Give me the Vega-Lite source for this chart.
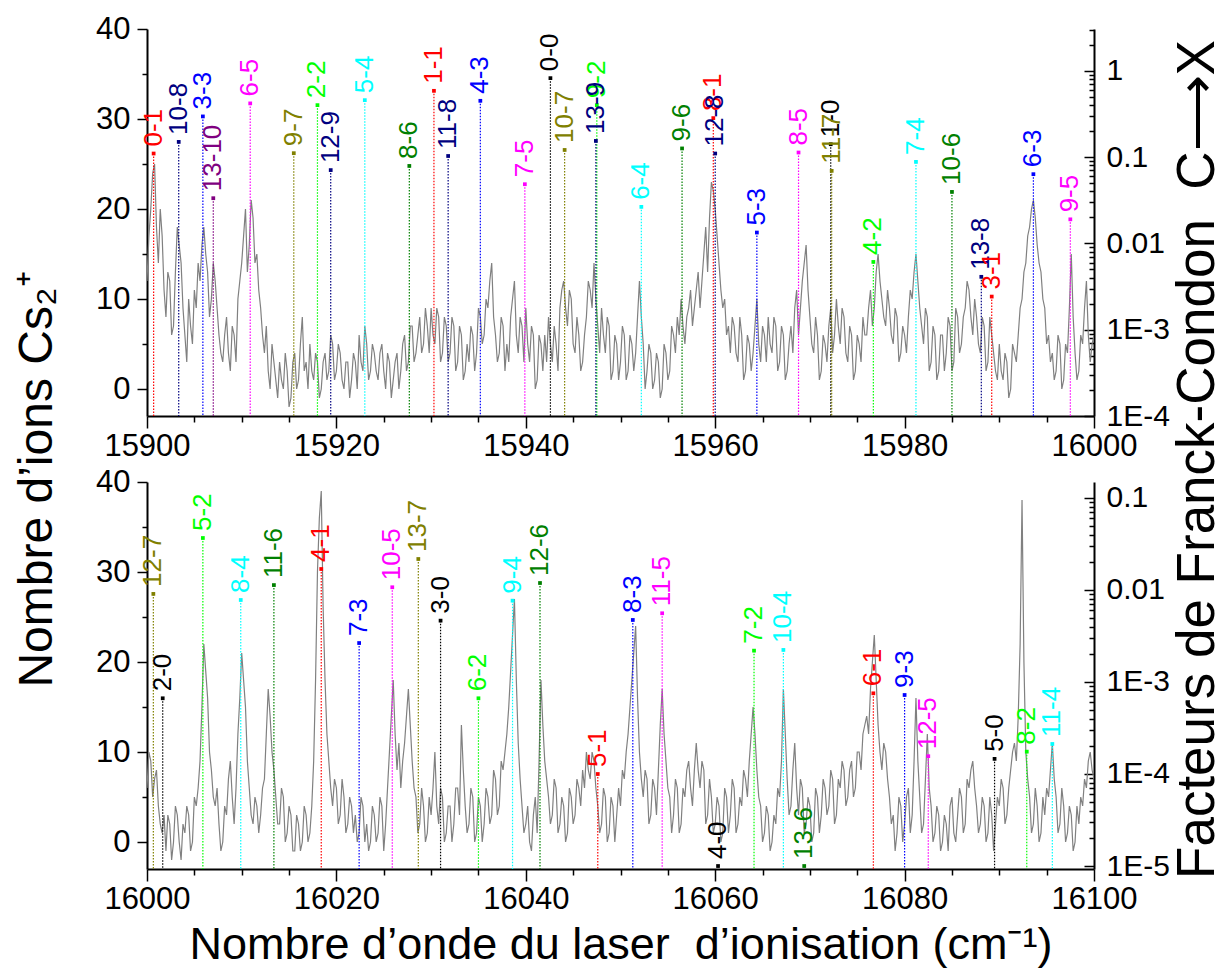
{
"$schema":"https://vega.github.io/schema/vega-lite/v6.json",
"background":"white",
"padding":{"left":13,"top":13,"right":5,"bottom":5},
"bounds":"flush",
"spacing":66,
"config":{"font":"Liberation Sans","view":{"stroke":null},"axis":{"domainColor":"black","domainWidth":2,"tickColor":"black","tickWidth":1.5,"labelColor":"black","labelFont":"Liberation Sans","labelFontSize":31,"titleColor":"black","titleFont":"Liberation Sans","titleFontWeight":"normal","grid":false,"labelOverlap":false,"labelFlush":false}},
"datasets":{
"specTop":[
{"w":15900,"c":12},{"w":15900.2,"c":17},{"w":15900.4,"c":20},{"w":15900.6,"c":24},{"w":15900.8,"c":25},{"w":15901,"c":18},{"w":15901.2,"c":14},{"w":15901.4,"c":20},{"w":15901.6,"c":17},{"w":15901.8,"c":11},
{"w":15902,"c":8},{"w":15902.2,"c":13},{"w":15902.4,"c":12},{"w":15902.6,"c":6},{"w":15902.8,"c":7},{"w":15903,"c":13},{"w":15903.2,"c":18},{"w":15903.4,"c":16},{"w":15903.6,"c":14},{"w":15903.8,"c":9},
{"w":15904,"c":6},{"w":15904.2,"c":3},{"w":15904.4,"c":10},{"w":15904.6,"c":7},{"w":15904.8,"c":5},{"w":15905,"c":11},{"w":15905.2,"c":9},{"w":15905.4,"c":14},{"w":15905.6,"c":12},{"w":15905.8,"c":16},
{"w":15906,"c":18},{"w":15906.2,"c":15},{"w":15906.4,"c":13},{"w":15906.6,"c":8},{"w":15906.8,"c":10},{"w":15907,"c":14},{"w":15907.2,"c":12},{"w":15907.4,"c":9},{"w":15907.6,"c":6},{"w":15907.8,"c":4},
{"w":15908,"c":3},{"w":15908.2,"c":6},{"w":15908.4,"c":8},{"w":15908.6,"c":4},{"w":15908.8,"c":2},{"w":15909,"c":7},{"w":15909.2,"c":6},{"w":15909.4,"c":3},{"w":15909.6,"c":10},{"w":15909.8,"c":12},
{"w":15910,"c":14},{"w":15910.2,"c":17},{"w":15910.4,"c":20},{"w":15910.6,"c":13},{"w":15910.8,"c":16},{"w":15911,"c":21},{"w":15911.2,"c":19},{"w":15911.4,"c":14},{"w":15911.6,"c":15},{"w":15911.8,"c":11},
{"w":15912,"c":9},{"w":15912.2,"c":6},{"w":15912.4,"c":4},{"w":15912.6,"c":7},{"w":15912.8,"c":2},{"w":15913,"c":0},{"w":15913.2,"c":5},{"w":15913.4,"c":3},{"w":15913.6,"c":1},{"w":15913.8,"c":-1},
{"w":15914,"c":3},{"w":15914.2,"c":1},{"w":15914.4,"c":0},{"w":15914.6,"c":4},{"w":15914.8,"c":2},{"w":15915,"c":-2},{"w":15915.2,"c":-1},{"w":15915.4,"c":3},{"w":15915.6,"c":4},{"w":15915.8,"c":0},
{"w":15916,"c":1},{"w":15916.2,"c":5},{"w":15916.4,"c":8},{"w":15916.6,"c":2},{"w":15916.8,"c":3},{"w":15917,"c":0},{"w":15917.2,"c":5},{"w":15917.4,"c":2},{"w":15917.6,"c":1},{"w":15917.8,"c":4},
{"w":15918,"c":3},{"w":15918.2,"c":-1},{"w":15918.4,"c":0},{"w":15918.6,"c":3},{"w":15918.8,"c":4},{"w":15919,"c":1},{"w":15919.2,"c":2},{"w":15919.4,"c":6},{"w":15919.6,"c":5},{"w":15919.8,"c":1},
{"w":15920,"c":2},{"w":15920.2,"c":5},{"w":15920.4,"c":4},{"w":15920.6,"c":1},{"w":15920.8,"c":0},{"w":15921,"c":3},{"w":15921.2,"c":3},{"w":15921.4,"c":-1},{"w":15921.6,"c":1},{"w":15921.8,"c":4},
{"w":15922,"c":3},{"w":15922.2,"c":0},{"w":15922.4,"c":6},{"w":15922.6,"c":3},{"w":15922.8,"c":2},{"w":15923,"c":7},{"w":15923.2,"c":5},{"w":15923.4,"c":1},{"w":15923.6,"c":2},{"w":15923.8,"c":5},
{"w":15924,"c":4},{"w":15924.2,"c":2},{"w":15924.4,"c":1},{"w":15924.6,"c":4},{"w":15924.8,"c":5},{"w":15925,"c":2},{"w":15925.2,"c":0},{"w":15925.4,"c":4},{"w":15925.6,"c":3},{"w":15925.8,"c":-1},
{"w":15926,"c":1},{"w":15926.2,"c":3},{"w":15926.4,"c":4},{"w":15926.6,"c":0},{"w":15926.8,"c":2},{"w":15927,"c":5},{"w":15927.2,"c":6},{"w":15927.4,"c":2},{"w":15927.6,"c":3},{"w":15927.8,"c":7},
{"w":15928,"c":7},{"w":15928.2,"c":3},{"w":15928.4,"c":4},{"w":15928.6,"c":6},{"w":15928.8,"c":8},{"w":15929,"c":4},{"w":15929.2,"c":5},{"w":15929.4,"c":9},{"w":15929.6,"c":7},{"w":15929.8,"c":4},
{"w":15930,"c":9},{"w":15930.2,"c":6},{"w":15930.4,"c":5},{"w":15930.6,"c":9},{"w":15930.8,"c":8},{"w":15931,"c":3},{"w":15931.2,"c":4},{"w":15931.4,"c":8},{"w":15931.6,"c":7},{"w":15931.8,"c":3},
{"w":15932,"c":4},{"w":15932.2,"c":8},{"w":15932.4,"c":7},{"w":15932.6,"c":2},{"w":15932.8,"c":3},{"w":15933,"c":7},{"w":15933.2,"c":6},{"w":15933.4,"c":1},{"w":15933.6,"c":2},{"w":15933.8,"c":5},
{"w":15934,"c":3},{"w":15934.2,"c":7},{"w":15934.4,"c":6},{"w":15934.6,"c":2},{"w":15934.8,"c":4},{"w":15935,"c":9},{"w":15935.2,"c":8},{"w":15935.4,"c":5},{"w":15935.6,"c":6},{"w":15935.8,"c":10},
{"w":15936,"c":9},{"w":15936.2,"c":12},{"w":15936.4,"c":14},{"w":15936.6,"c":8},{"w":15936.8,"c":6},{"w":15937,"c":3},{"w":15937.2,"c":4},{"w":15937.4,"c":8},{"w":15937.6,"c":7},{"w":15937.8,"c":2},
{"w":15938,"c":5},{"w":15938.2,"c":3},{"w":15938.4,"c":8},{"w":15938.6,"c":10},{"w":15938.8,"c":12},{"w":15939,"c":6},{"w":15939.2,"c":4},{"w":15939.4,"c":8},{"w":15939.6,"c":7},{"w":15939.8,"c":3},
{"w":15940,"c":9},{"w":15940.2,"c":5},{"w":15940.4,"c":3},{"w":15940.6,"c":7},{"w":15940.8,"c":6},{"w":15941,"c":0},{"w":15941.2,"c":1},{"w":15941.4,"c":6},{"w":15941.6,"c":5},{"w":15941.8,"c":2},
{"w":15942,"c":6},{"w":15942.2,"c":3},{"w":15942.4,"c":8},{"w":15942.6,"c":5},{"w":15942.8,"c":3},{"w":15943,"c":7},{"w":15943.2,"c":5},{"w":15943.4,"c":2},{"w":15943.6,"c":9},{"w":15943.8,"c":11},
{"w":15944,"c":12},{"w":15944.2,"c":9},{"w":15944.4,"c":7},{"w":15944.6,"c":11},{"w":15944.8,"c":10},{"w":15945,"c":5},{"w":15945.2,"c":4},{"w":15945.4,"c":8},{"w":15945.6,"c":6},{"w":15945.8,"c":2},
{"w":15946,"c":3},{"w":15946.2,"c":6},{"w":15946.4,"c":8},{"w":15946.6,"c":12},{"w":15946.8,"c":11},{"w":15947,"c":9},{"w":15947.2,"c":14},{"w":15947.4,"c":10},{"w":15947.6,"c":7},{"w":15947.8,"c":4},
{"w":15948,"c":9},{"w":15948.2,"c":6},{"w":15948.4,"c":4},{"w":15948.6,"c":8},{"w":15948.8,"c":7},{"w":15949,"c":1},{"w":15949.2,"c":2},{"w":15949.4,"c":6},{"w":15949.6,"c":5},{"w":15949.8,"c":1},
{"w":15950,"c":3},{"w":15950.2,"c":7},{"w":15950.4,"c":6},{"w":15950.6,"c":1},{"w":15950.8,"c":2},{"w":15951,"c":6},{"w":15951.2,"c":5},{"w":15951.4,"c":2},{"w":15951.6,"c":4},{"w":15951.8,"c":8},
{"w":15952,"c":12},{"w":15952.2,"c":8},{"w":15952.4,"c":5},{"w":15952.6,"c":0},{"w":15952.8,"c":2},{"w":15953,"c":5},{"w":15953.2,"c":4},{"w":15953.4,"c":0},{"w":15953.6,"c":1},{"w":15953.8,"c":4},
{"w":15954,"c":3},{"w":15954.2,"c":-1},{"w":15954.4,"c":0},{"w":15954.6,"c":5},{"w":15954.8,"c":4},{"w":15955,"c":1},{"w":15955.2,"c":2},{"w":15955.4,"c":7},{"w":15955.6,"c":6},{"w":15955.8,"c":4},
{"w":15956,"c":8},{"w":15956.2,"c":6},{"w":15956.4,"c":10},{"w":15956.6,"c":7},{"w":15956.8,"c":5},{"w":15957,"c":8},{"w":15957.2,"c":9},{"w":15957.4,"c":11},{"w":15957.6,"c":7},{"w":15957.8,"c":9},
{"w":15958,"c":11},{"w":15958.2,"c":13},{"w":15958.4,"c":9},{"w":15958.6,"c":12},{"w":15958.8,"c":15},{"w":15959,"c":18},{"w":15959.2,"c":13},{"w":15959.4,"c":19},{"w":15959.6,"c":23},{"w":15959.8,"c":22},
{"w":15960,"c":20},{"w":15960.2,"c":17},{"w":15960.4,"c":14},{"w":15960.6,"c":11},{"w":15960.8,"c":9},{"w":15961,"c":10},{"w":15961.2,"c":6},{"w":15961.4,"c":7},{"w":15961.6,"c":4},{"w":15961.8,"c":8},
{"w":15962,"c":7},{"w":15962.2,"c":4},{"w":15962.4,"c":3},{"w":15962.6,"c":8},{"w":15962.8,"c":6},{"w":15963,"c":1},{"w":15963.2,"c":2},{"w":15963.4,"c":6},{"w":15963.6,"c":5},{"w":15963.8,"c":2},
{"w":15964,"c":4},{"w":15964.2,"c":7},{"w":15964.4,"c":10},{"w":15964.6,"c":5},{"w":15964.8,"c":3},{"w":15965,"c":7},{"w":15965.2,"c":6},{"w":15965.4,"c":3},{"w":15965.6,"c":8},{"w":15965.8,"c":5},
{"w":15966,"c":4},{"w":15966.2,"c":8},{"w":15966.4,"c":7},{"w":15966.6,"c":2},{"w":15966.8,"c":3},{"w":15967,"c":7},{"w":15967.2,"c":6},{"w":15967.4,"c":1},{"w":15967.6,"c":2},{"w":15967.8,"c":5},
{"w":15968,"c":7},{"w":15968.2,"c":4},{"w":15968.4,"c":9},{"w":15968.6,"c":11},{"w":15968.8,"c":6},{"w":15969,"c":9},{"w":15969.2,"c":12},{"w":15969.4,"c":14},{"w":15969.6,"c":16},{"w":15969.8,"c":11},
{"w":15970,"c":8},{"w":15970.2,"c":5},{"w":15970.4,"c":4},{"w":15970.6,"c":8},{"w":15970.8,"c":6},{"w":15971,"c":1},{"w":15971.2,"c":2},{"w":15971.4,"c":6},{"w":15971.6,"c":5},{"w":15971.8,"c":3},
{"w":15972,"c":7},{"w":15972.2,"c":9},{"w":15972.4,"c":4},{"w":15972.6,"c":6},{"w":15972.8,"c":10},{"w":15973,"c":7},{"w":15973.2,"c":5},{"w":15973.4,"c":9},{"w":15973.6,"c":8},{"w":15973.8,"c":4},
{"w":15974,"c":3},{"w":15974.2,"c":7},{"w":15974.4,"c":6},{"w":15974.6,"c":1},{"w":15974.8,"c":2},{"w":15975,"c":6},{"w":15975.2,"c":5},{"w":15975.4,"c":3},{"w":15975.6,"c":8},{"w":15975.8,"c":6},
{"w":15976,"c":6},{"w":15976.2,"c":9},{"w":15976.4,"c":11},{"w":15976.6,"c":7},{"w":15976.8,"c":9},{"w":15977,"c":13},{"w":15977.2,"c":15},{"w":15977.4,"c":12},{"w":15977.6,"c":10},{"w":15977.8,"c":8},
{"w":15978,"c":7},{"w":15978.2,"c":11},{"w":15978.4,"c":9},{"w":15978.6,"c":6},{"w":15978.8,"c":5},{"w":15979,"c":9},{"w":15979.2,"c":8},{"w":15979.4,"c":3},{"w":15979.6,"c":4},{"w":15979.8,"c":7},
{"w":15980,"c":6},{"w":15980.2,"c":4},{"w":15980.4,"c":8},{"w":15980.6,"c":11},{"w":15980.8,"c":10},{"w":15981,"c":13},{"w":15981.2,"c":15},{"w":15981.4,"c":12},{"w":15981.6,"c":9},{"w":15981.8,"c":7},
{"w":15982,"c":5},{"w":15982.2,"c":9},{"w":15982.4,"c":8},{"w":15982.6,"c":2},{"w":15982.8,"c":3},{"w":15983,"c":7},{"w":15983.2,"c":6},{"w":15983.4,"c":1},{"w":15983.6,"c":2},{"w":15983.8,"c":6},
{"w":15984,"c":6},{"w":15984.2,"c":2},{"w":15984.4,"c":4},{"w":15984.6,"c":8},{"w":15984.8,"c":7},{"w":15985,"c":2},{"w":15985.2,"c":3},{"w":15985.4,"c":9},{"w":15985.6,"c":8},{"w":15985.8,"c":4},
{"w":15986,"c":5},{"w":15986.2,"c":8},{"w":15986.4,"c":9},{"w":15986.6,"c":12},{"w":15986.8,"c":11},{"w":15987,"c":8},{"w":15987.2,"c":6},{"w":15987.4,"c":10},{"w":15987.6,"c":8},{"w":15987.8,"c":5},
{"w":15988,"c":4},{"w":15988.2,"c":8},{"w":15988.4,"c":7},{"w":15988.6,"c":2},{"w":15988.8,"c":3},{"w":15989,"c":8},{"w":15989.2,"c":6},{"w":15989.4,"c":4},{"w":15989.6,"c":2},{"w":15989.8,"c":1},
{"w":15990,"c":5},{"w":15990.2,"c":2},{"w":15990.4,"c":1},{"w":15990.6,"c":4},{"w":15990.8,"c":3},{"w":15991,"c":-1},{"w":15991.2,"c":0},{"w":15991.4,"c":5},{"w":15991.6,"c":4},{"w":15991.8,"c":3},
{"w":15992,"c":6},{"w":15992.2,"c":9},{"w":15992.4,"c":10},{"w":15992.6,"c":13},{"w":15992.8,"c":14},{"w":15993,"c":17},{"w":15993.2,"c":18},{"w":15993.4,"c":20},{"w":15993.6,"c":21},{"w":15993.8,"c":19},
{"w":15994,"c":16},{"w":15994.2,"c":14},{"w":15994.4,"c":13},{"w":15994.6,"c":10},{"w":15994.8,"c":9},{"w":15995,"c":5},{"w":15995.2,"c":6},{"w":15995.4,"c":3},{"w":15995.6,"c":4},{"w":15995.8,"c":1},
{"w":15996,"c":2},{"w":15996.2,"c":6},{"w":15996.4,"c":5},{"w":15996.6,"c":0},{"w":15996.8,"c":1},{"w":15997,"c":5},{"w":15997.2,"c":4},{"w":15997.4,"c":9},{"w":15997.6,"c":15},{"w":15997.8,"c":8},
{"w":15998,"c":4},{"w":15998.2,"c":1},{"w":15998.4,"c":2},{"w":15998.6,"c":6},{"w":15998.8,"c":5},{"w":15999,"c":9},{"w":15999.2,"c":12},{"w":15999.4,"c":6},{"w":15999.6,"c":3},{"w":15999.8,"c":5},
{"w":16000,"c":6}],
"specBot":[
{"w":16000,"c":6},{"w":16000.2,"c":10},{"w":16000.4,"c":9},{"w":16000.6,"c":5},{"w":16000.8,"c":7},{"w":16001,"c":8},{"w":16001.2,"c":4},{"w":16001.4,"c":2},{"w":16001.6,"c":1},{"w":16001.8,"c":3},
{"w":16002,"c":-1},{"w":16002.2,"c":3},{"w":16002.4,"c":2},{"w":16002.6,"c":-2},{"w":16002.8,"c":0},{"w":16003,"c":4},{"w":16003.2,"c":3},{"w":16003.4,"c":0},{"w":16003.6,"c":-2},{"w":16003.8,"c":2},
{"w":16004,"c":1},{"w":16004.2,"c":4},{"w":16004.4,"c":3},{"w":16004.6,"c":-1},{"w":16004.8,"c":0},{"w":16005,"c":5},{"w":16005.2,"c":4},{"w":16005.4,"c":6},{"w":16005.6,"c":9},{"w":16005.8,"c":15},
{"w":16006,"c":22},{"w":16006.2,"c":19},{"w":16006.4,"c":16},{"w":16006.6,"c":10},{"w":16006.8,"c":8},{"w":16007,"c":5},{"w":16007.2,"c":4},{"w":16007.4,"c":6},{"w":16007.6,"c":2},{"w":16007.8,"c":-1},
{"w":16008,"c":0},{"w":16008.2,"c":4},{"w":16008.4,"c":3},{"w":16008.6,"c":7},{"w":16008.8,"c":9},{"w":16009,"c":5},{"w":16009.2,"c":2},{"w":16009.4,"c":6},{"w":16009.6,"c":12},{"w":16009.8,"c":16},
{"w":16010,"c":21},{"w":16010.2,"c":18},{"w":16010.4,"c":15},{"w":16010.6,"c":9},{"w":16010.8,"c":6},{"w":16011,"c":3},{"w":16011.2,"c":2},{"w":16011.4,"c":5},{"w":16011.6,"c":4},{"w":16011.8,"c":1},
{"w":16012,"c":3},{"w":16012.2,"c":6},{"w":16012.4,"c":7},{"w":16012.6,"c":12},{"w":16012.8,"c":17},{"w":16013,"c":14},{"w":16013.2,"c":10},{"w":16013.4,"c":8},{"w":16013.6,"c":5},{"w":16013.8,"c":2},
{"w":16014,"c":2},{"w":16014.2,"c":6},{"w":16014.4,"c":5},{"w":16014.6,"c":0},{"w":16014.8,"c":1},{"w":16015,"c":4},{"w":16015.2,"c":3},{"w":16015.4,"c":-1},{"w":16015.6,"c":-1},{"w":16015.8,"c":3},
{"w":16016,"c":2},{"w":16016.2,"c":-1},{"w":16016.4,"c":0},{"w":16016.6,"c":4},{"w":16016.8,"c":3},{"w":16017,"c":0},{"w":16017.2,"c":1},{"w":16017.4,"c":4},{"w":16017.6,"c":9},{"w":16017.8,"c":18},
{"w":16018,"c":30},{"w":16018.2,"c":36},{"w":16018.4,"c":39},{"w":16018.6,"c":26},{"w":16018.8,"c":18},{"w":16019,"c":12},{"w":16019.2,"c":9},{"w":16019.4,"c":6},{"w":16019.6,"c":4},{"w":16019.8,"c":7},
{"w":16020,"c":6},{"w":16020.2,"c":2},{"w":16020.4,"c":3},{"w":16020.6,"c":7},{"w":16020.8,"c":5},{"w":16021,"c":1},{"w":16021.2,"c":2},{"w":16021.4,"c":5},{"w":16021.6,"c":4},{"w":16021.8,"c":1},
{"w":16022,"c":3},{"w":16022.2,"c":0},{"w":16022.4,"c":1},{"w":16022.6,"c":5},{"w":16022.8,"c":4},{"w":16023,"c":0},{"w":16023.2,"c":2},{"w":16023.4,"c":-1},{"w":16023.6,"c":0},{"w":16023.8,"c":4},
{"w":16024,"c":3},{"w":16024.2,"c":0},{"w":16024.4,"c":1},{"w":16024.6,"c":5},{"w":16024.8,"c":4},{"w":16025,"c":-1},{"w":16025.2,"c":2},{"w":16025.4,"c":6},{"w":16025.6,"c":10},{"w":16025.8,"c":14},
{"w":16026,"c":18},{"w":16026.2,"c":12},{"w":16026.4,"c":8},{"w":16026.6,"c":11},{"w":16026.8,"c":6},{"w":16027,"c":9},{"w":16027.2,"c":11},{"w":16027.4,"c":14},{"w":16027.6,"c":17},{"w":16027.8,"c":13},
{"w":16028,"c":9},{"w":16028.2,"c":6},{"w":16028.4,"c":5},{"w":16028.6,"c":1},{"w":16028.8,"c":2},{"w":16029,"c":6},{"w":16029.2,"c":4},{"w":16029.4,"c":0},{"w":16029.6,"c":1},{"w":16029.8,"c":5},
{"w":16030,"c":3},{"w":16030.2,"c":6},{"w":16030.4,"c":10},{"w":16030.6,"c":4},{"w":16030.8,"c":2},{"w":16031,"c":6},{"w":16031.2,"c":5},{"w":16031.4,"c":0},{"w":16031.6,"c":1},{"w":16031.8,"c":4},
{"w":16032,"c":4},{"w":16032.2,"c":0},{"w":16032.4,"c":2},{"w":16032.6,"c":6},{"w":16032.8,"c":6},{"w":16033,"c":3},{"w":16033.2,"c":13},{"w":16033.4,"c":8},{"w":16033.6,"c":4},{"w":16033.8,"c":1},
{"w":16034,"c":2},{"w":16034.2,"c":6},{"w":16034.4,"c":5},{"w":16034.6,"c":0},{"w":16034.8,"c":1},{"w":16035,"c":5},{"w":16035.2,"c":4},{"w":16035.4,"c":0},{"w":16035.6,"c":2},{"w":16035.8,"c":6},
{"w":16036,"c":5},{"w":16036.2,"c":2},{"w":16036.4,"c":3},{"w":16036.6,"c":8},{"w":16036.8,"c":7},{"w":16037,"c":3},{"w":16037.2,"c":4},{"w":16037.4,"c":9},{"w":16037.6,"c":8},{"w":16037.8,"c":10},
{"w":16038,"c":12},{"w":16038.2,"c":15},{"w":16038.4,"c":19},{"w":16038.6,"c":23},{"w":16038.8,"c":27},{"w":16039,"c":18},{"w":16039.2,"c":11},{"w":16039.4,"c":7},{"w":16039.6,"c":4},{"w":16039.8,"c":1},
{"w":16040,"c":2},{"w":16040.2,"c":4},{"w":16040.4,"c":0},{"w":16040.6,"c":-1},{"w":16040.8,"c":3},{"w":16041,"c":5},{"w":16041.2,"c":1},{"w":16041.4,"c":9},{"w":16041.6,"c":18},{"w":16041.8,"c":13},
{"w":16042,"c":9},{"w":16042.2,"c":7},{"w":16042.4,"c":5},{"w":16042.6,"c":2},{"w":16042.8,"c":3},{"w":16043,"c":7},{"w":16043.2,"c":6},{"w":16043.4,"c":1},{"w":16043.6,"c":2},{"w":16043.8,"c":5},
{"w":16044,"c":4},{"w":16044.2,"c":0},{"w":16044.4,"c":1},{"w":16044.6,"c":6},{"w":16044.8,"c":5},{"w":16045,"c":2},{"w":16045.2,"c":3},{"w":16045.4,"c":7},{"w":16045.6,"c":6},{"w":16045.8,"c":4},
{"w":16046,"c":8},{"w":16046.2,"c":6},{"w":16046.4,"c":10},{"w":16046.6,"c":8},{"w":16046.8,"c":7},{"w":16047,"c":10},{"w":16047.2,"c":9},{"w":16047.4,"c":6},{"w":16047.6,"c":4},{"w":16047.8,"c":1},
{"w":16048,"c":2},{"w":16048.2,"c":6},{"w":16048.4,"c":5},{"w":16048.6,"c":0},{"w":16048.8,"c":1},{"w":16049,"c":5},{"w":16049.2,"c":4},{"w":16049.4,"c":0},{"w":16049.6,"c":3},{"w":16049.8,"c":6},
{"w":16050,"c":4},{"w":16050.2,"c":8},{"w":16050.4,"c":7},{"w":16050.6,"c":10},{"w":16050.8,"c":12},{"w":16051,"c":15},{"w":16051.2,"c":18},{"w":16051.4,"c":21},{"w":16051.6,"c":24},{"w":16051.8,"c":16},
{"w":16052,"c":10},{"w":16052.2,"c":7},{"w":16052.4,"c":5},{"w":16052.6,"c":8},{"w":16052.8,"c":7},{"w":16053,"c":2},{"w":16053.2,"c":3},{"w":16053.4,"c":7},{"w":16053.6,"c":6},{"w":16053.8,"c":3},
{"w":16054,"c":8},{"w":16054.2,"c":13},{"w":16054.4,"c":17},{"w":16054.6,"c":12},{"w":16054.8,"c":9},{"w":16055,"c":6},{"w":16055.2,"c":5},{"w":16055.4,"c":1},{"w":16055.6,"c":3},{"w":16055.8,"c":7},
{"w":16056,"c":6},{"w":16056.2,"c":1},{"w":16056.4,"c":2},{"w":16056.6,"c":6},{"w":16056.8,"c":5},{"w":16057,"c":8},{"w":16057.2,"c":9},{"w":16057.4,"c":6},{"w":16057.6,"c":4},{"w":16057.8,"c":8},
{"w":16058,"c":11},{"w":16058.2,"c":8},{"w":16058.4,"c":6},{"w":16058.6,"c":9},{"w":16058.8,"c":8},{"w":16059,"c":2},{"w":16059.2,"c":3},{"w":16059.4,"c":7},{"w":16059.6,"c":5},{"w":16059.8,"c":1},
{"w":16060,"c":2},{"w":16060.2,"c":5},{"w":16060.4,"c":4},{"w":16060.6,"c":0},{"w":16060.8,"c":1},{"w":16061,"c":6},{"w":16061.2,"c":5},{"w":16061.4,"c":1},{"w":16061.6,"c":3},{"w":16061.8,"c":7},
{"w":16062,"c":6},{"w":16062.2,"c":1},{"w":16062.4,"c":2},{"w":16062.6,"c":5},{"w":16062.8,"c":4},{"w":16063,"c":8},{"w":16063.2,"c":7},{"w":16063.4,"c":5},{"w":16063.6,"c":9},{"w":16063.8,"c":12},
{"w":16064,"c":15},{"w":16064.2,"c":12},{"w":16064.4,"c":8},{"w":16064.6,"c":5},{"w":16064.8,"c":4},{"w":16065,"c":0},{"w":16065.2,"c":1},{"w":16065.4,"c":4},{"w":16065.6,"c":3},{"w":16065.8,"c":-1},
{"w":16066,"c":0},{"w":16066.2,"c":3},{"w":16066.4,"c":2},{"w":16066.6,"c":6},{"w":16066.8,"c":5},{"w":16067,"c":9},{"w":16067.2,"c":17},{"w":16067.4,"c":12},{"w":16067.6,"c":7},{"w":16067.8,"c":3},
{"w":16068,"c":4},{"w":16068.2,"c":8},{"w":16068.4,"c":11},{"w":16068.6,"c":6},{"w":16068.8,"c":3},{"w":16069,"c":7},{"w":16069.2,"c":6},{"w":16069.4,"c":1},{"w":16069.6,"c":2},{"w":16069.8,"c":5},
{"w":16070,"c":4},{"w":16070.2,"c":0},{"w":16070.4,"c":1},{"w":16070.6,"c":6},{"w":16070.8,"c":5},{"w":16071,"c":1},{"w":16071.2,"c":3},{"w":16071.4,"c":7},{"w":16071.6,"c":6},{"w":16071.8,"c":3},
{"w":16072,"c":4},{"w":16072.2,"c":8},{"w":16072.4,"c":7},{"w":16072.6,"c":2},{"w":16072.8,"c":3},{"w":16073,"c":7},{"w":16073.2,"c":6},{"w":16073.4,"c":9},{"w":16073.6,"c":8},{"w":16073.8,"c":4},
{"w":16074,"c":5},{"w":16074.2,"c":8},{"w":16074.4,"c":9},{"w":16074.6,"c":5},{"w":16074.8,"c":6},{"w":16075,"c":10},{"w":16075.2,"c":10},{"w":16075.4,"c":8},{"w":16075.6,"c":12},{"w":16075.8,"c":13},
{"w":16076,"c":14},{"w":16076.2,"c":12},{"w":16076.4,"c":17},{"w":16076.6,"c":20},{"w":16076.8,"c":23},{"w":16077,"c":18},{"w":16077.2,"c":13},{"w":16077.4,"c":10},{"w":16077.6,"c":8},{"w":16077.8,"c":11},
{"w":16078,"c":10},{"w":16078.2,"c":7},{"w":16078.4,"c":5},{"w":16078.6,"c":2},{"w":16078.8,"c":3},{"w":16079,"c":-1},{"w":16079.2,"c":1},{"w":16079.4,"c":5},{"w":16079.6,"c":4},{"w":16079.8,"c":0},
{"w":16080,"c":2},{"w":16080.2,"c":5},{"w":16080.4,"c":6},{"w":16080.6,"c":1},{"w":16080.8,"c":3},{"w":16081,"c":9},{"w":16081.2,"c":16},{"w":16081.4,"c":9},{"w":16081.6,"c":5},{"w":16081.8,"c":1},
{"w":16082,"c":2},{"w":16082.2,"c":7},{"w":16082.4,"c":12},{"w":16082.6,"c":6},{"w":16082.8,"c":4},{"w":16083,"c":0},{"w":16083.2,"c":1},{"w":16083.4,"c":4},{"w":16083.6,"c":3},{"w":16083.8,"c":-1},
{"w":16084,"c":0},{"w":16084.2,"c":3},{"w":16084.4,"c":2},{"w":16084.6,"c":-1},{"w":16084.8,"c":4},{"w":16085,"c":5},{"w":16085.2,"c":1},{"w":16085.4,"c":0},{"w":16085.6,"c":3},{"w":16085.8,"c":6},
{"w":16086,"c":5},{"w":16086.2,"c":1},{"w":16086.4,"c":2},{"w":16086.6,"c":7},{"w":16086.8,"c":6},{"w":16087,"c":8},{"w":16087.2,"c":9},{"w":16087.4,"c":6},{"w":16087.6,"c":4},{"w":16087.8,"c":1},
{"w":16088,"c":2},{"w":16088.2,"c":5},{"w":16088.4,"c":4},{"w":16088.6,"c":0},{"w":16088.8,"c":1},{"w":16089,"c":5},{"w":16089.2,"c":3},{"w":16089.4,"c":-1},{"w":16089.6,"c":2},{"w":16089.8,"c":5},
{"w":16090,"c":4},{"w":16090.2,"c":7},{"w":16090.4,"c":6},{"w":16090.6,"c":2},{"w":16090.8,"c":3},{"w":16091,"c":6},{"w":16091.2,"c":8},{"w":16091.4,"c":10},{"w":16091.6,"c":11},{"w":16091.8,"c":9},
{"w":16092,"c":14},{"w":16092.2,"c":22},{"w":16092.4,"c":38},{"w":16092.6,"c":20},{"w":16092.8,"c":10},{"w":16093,"c":7},{"w":16093.2,"c":5},{"w":16093.4,"c":1},{"w":16093.6,"c":2},{"w":16093.8,"c":6},
{"w":16094,"c":4},{"w":16094.2,"c":0},{"w":16094.4,"c":1},{"w":16094.6,"c":5},{"w":16094.8,"c":3},{"w":16095,"c":6},{"w":16095.2,"c":5},{"w":16095.4,"c":8},{"w":16095.6,"c":11},{"w":16095.8,"c":7},
{"w":16096,"c":5},{"w":16096.2,"c":1},{"w":16096.4,"c":2},{"w":16096.6,"c":6},{"w":16096.8,"c":4},{"w":16097,"c":0},{"w":16097.2,"c":1},{"w":16097.4,"c":4},{"w":16097.6,"c":3},{"w":16097.8,"c":-1},
{"w":16098,"c":0},{"w":16098.2,"c":4},{"w":16098.4,"c":2},{"w":16098.6,"c":5},{"w":16098.8,"c":4},{"w":16099,"c":7},{"w":16099.2,"c":6},{"w":16099.4,"c":9},{"w":16099.6,"c":10},{"w":16099.8,"c":8},
{"w":16100,"c":7}],
"sticksTop":[{"w":15900.7,"fc":0.11,"lab":"0-1","v":1},{"w":15903.35,"fc":0.15,"lab":"10-8","v":8},{"w":15905.9,"fc":0.296,"lab":"3-3","v":3},{"w":15907.0,"fc":0.0334,"lab":"13-10","v":10},{"w":15910.9,"fc":0.419,"lab":"6-5","v":5},{"w":15915.5,"fc":0.111,"lab":"9-7","v":7},{"w":15918.0,"fc":0.40,"lab":"2-2","v":2},{"w":15919.4,"fc":0.0707,"lab":"12-9","v":9},{"w":15923.0,"fc":0.457,"lab":"5-4","v":4},{"w":15927.7,"fc":0.079,"lab":"8-6","v":6},{"w":15930.3,"fc":0.586,"lab":"1-1","v":1},{"w":15931.8,"fc":0.103,"lab":"11-8","v":8},{"w":15935.2,"fc":0.449,"lab":"4-3","v":3},{"w":15939.9,"fc":0.0485,"lab":"7-5","v":5},{"w":15942.6,"fc":0.822,"lab":"0-0","v":0},{"w":15944.1,"fc":0.121,"lab":"10-7","v":7},{"w":15947.5,"fc":0.40,"lab":"9-2","v":2},{"w":15947.4,"fc":0.154,"lab":"13-9","v":9},{"w":15952.2,"fc":0.0265,"lab":"6-4","v":4},{"w":15956.5,"fc":0.126,"lab":"9-6","v":6},{"w":15959.8,"fc":0.283,"lab":"8-1","v":1},{"w":15960.0,"fc":0.110,"lab":"12-8","v":8},{"w":15964.4,"fc":0.01336,"lab":"5-3","v":3},{"w":15968.8,"fc":0.113,"lab":"8-5","v":5},{"w":15972.2,"fc":0.141,"lab":"1-0","v":0},{"w":15972.3,"fc":0.0693,"lab":"11-7","v":7},{"w":15976.7,"fc":0.0061,"lab":"4-2","v":2},{"w":15981.2,"fc":0.088,"lab":"7-4","v":4},{"w":15985.0,"fc":0.0395,"lab":"10-6","v":6},{"w":15988.1,"fc":0.0041,"lab":"13-8","v":8},{"w":15989.2,"fc":0.00242,"lab":"3-1","v":1},{"w":15993.6,"fc":0.0634,"lab":"6-3","v":3},{"w":15997.5,"fc":0.019,"lab":"9-5","v":5}],
"sticksBot":[{"w":16000.67,"fc":0.00906,"lab":"12-7","v":7},{"w":16001.66,"fc":0.000665,"lab":"2-0","v":0},{"w":16005.9,"fc":0.0367,"lab":"5-2","v":2},{"w":16009.9,"fc":0.00778,"lab":"8-4","v":4},{"w":16013.4,"fc":0.0113,"lab":"11-6","v":6},{"w":16018.4,"fc":0.0169,"lab":"4-1","v":1},{"w":16022.4,"fc":0.00265,"lab":"7-3","v":3},{"w":16025.9,"fc":0.0107,"lab":"10-5","v":5},{"w":16028.65,"fc":0.0217,"lab":"13-7","v":7},{"w":16031.0,"fc":0.00464,"lab":"3-0","v":0},{"w":16035.0,"fc":0.000665,"lab":"6-2","v":2},{"w":16038.6,"fc":0.00765,"lab":"9-4","v":4},{"w":16041.5,"fc":0.0119,"lab":"12-6","v":6},{"w":16047.6,"fc":0.0001,"lab":"5-1","v":1},{"w":16051.3,"fc":0.00472,"lab":"8-3","v":3},{"w":16054.4,"fc":0.00558,"lab":"11-5","v":5},{"w":16060.3,"fc":0.00001,"lab":"4-0","v":0},{"w":16064.1,"fc":0.00219,"lab":"7-2","v":2},{"w":16067.2,"fc":0.00223,"lab":"10-4","v":4},{"w":16069.4,"fc":0.00001,"lab":"13-6","v":6},{"w":16076.7,"fc":0.000753,"lab":"6-1","v":1},{"w":16080.0,"fc":0.000722,"lab":"9-3","v":3},{"w":16082.5,"fc":0.000156,"lab":"12-5","v":5},{"w":16089.5,"fc":0.000146,"lab":"5-0","v":0},{"w":16092.9,"fc":0.000175,"lab":"8-2","v":2},{"w":16095.6,"fc":0.000212,"lab":"11-4","v":4}]
},
"vconcat":[
{
"width":947,"height":387,
"layer":[
{"data":{"name":"specTop"},"mark":{"type":"line","color":"#808080","strokeWidth":1.2,"clip":true},
"encoding":{
"x":{"field":"w","type":"quantitative","scale":{"domain":[15900,16000],"nice":false,"zero":false},
"axis":{"values":[15900,15905,15910,15915,15920,15925,15930,15935,15940,15945,15950,15955,15960,15965,15970,15975,15980,15985,15990,15995,16000],"format":"d","labelExpr":"datum.value % 20 === 0 ? datum.label : ''","tickSize":{"condition":{"test":"datum.value % 20 === 0","value":12},"value":6},"labelPadding":3,"labelFontSize":31,"title":null}},
"y":{"field":"c","type":"quantitative","scale":{"domain":[-3,40],"nice":false,"zero":false},
"axis":{"values":[0,5,10,15,20,25,30,35,40],"labelExpr":"datum.value % 10 === 0 ? datum.label : ''","tickSize":{"condition":{"test":"datum.value % 10 === 0","value":10},"value":5},"labelPadding":7,"title":"Nombre d’ions Cs₂⁺","titleFontSize":48,"titleX":-110,"titleY":450,"titleBaseline":"middle","titleAlign":"center","titleAngle":270}}
}},
{"data":{"name":"sticksTop"},
"encoding":{
"x":{"field":"w","type":"quantitative"},
"y":{"field":"fc","type":"quantitative","scale":{"type":"log","domain":[0.0001,3.05],"nice":false},
"axis":{"orient":"right","values":[0.0001,0.0002,0.0003,0.0004,0.0005,0.0006,0.0007,0.0008,0.0009,0.001,0.002,0.003,0.004,0.005,0.006,0.007,0.008,0.009,0.01,0.02,0.03,0.04,0.05,0.06,0.07,0.08,0.09,0.1,0.2,0.3,0.4,0.5,0.6,0.7,0.8,0.9,1,2,3],
"labelExpr":"datum.value === 1 ? '1' : datum.value === 0.1 ? '0.1' : datum.value === 0.01 ? '0.01' : datum.value === 0.001 ? '1E-3' : datum.value === 0.0001 ? '1E-4' : ''",
"tickSize":{"condition":{"test":"indexof([1,0.1,0.01,0.001,0.0001,0.00001], datum.value) >= 0","value":-10},"value":-5},
"labelPadding":22,"labelFontSize":30,"title":"Facteurs de Franck-Condon\u00a0\u00a0C⟶X","titleFontSize":53,"titleX":103,"titleY":430,"titleBaseline":"middle","titleAlign":"center","titleAngle":270}},
"color":{"field":"v","type":"nominal","scale":{"domain":[0,1,2,3,4,5,6,7,8,9,10],"range":["#000000","#ff0000","#00ff00","#0000ff","#00ffff","#ff00ff","#008000","#808000","#000080","#000080","#800080"]},"legend":null}
},
"layer":[
{"mark":{"type":"rule","strokeDash":[1.5,1.5],"strokeWidth":1.2},"encoding":{"y2":{"datum":0.0001}}},
{"mark":{"type":"square","size":14,"opacity":1,"filled":true},"encoding":{}},
{"mark":{"type":"text","angle":270,"align":"left","baseline":"middle","dx":7,"fontSize":26,"font":"Liberation Sans"},"encoding":{"text":{"field":"lab"}}}
]}
],
"resolve":{"scale":{"y":"independent"},"axis":{"y":"independent"}}
},
{
"width":947,"height":387,
"layer":[
{"data":{"name":"specBot"},"mark":{"type":"line","color":"#808080","strokeWidth":1.2,"clip":true},
"encoding":{
"x":{"field":"w","type":"quantitative","scale":{"domain":[16000,16100],"nice":false,"zero":false},
"axis":{"values":[16000,16005,16010,16015,16020,16025,16030,16035,16040,16045,16050,16055,16060,16065,16070,16075,16080,16085,16090,16095,16100],"format":"d","labelExpr":"datum.value % 20 === 0 ? datum.label : ''","tickSize":{"condition":{"test":"datum.value % 20 === 0","value":12},"value":6},"labelPadding":3,"labelFontSize":31,"title":"Nombre d’onde du laser\u00a0\u00a0d’ionisation (cm⁻¹)","titleFontSize":45,"titleY":75,"titleBaseline":"middle"}},
"y":{"field":"c","type":"quantitative","scale":{"domain":[-3,40],"nice":false,"zero":false},
"axis":{"values":[0,5,10,15,20,25,30,35,40],"labelExpr":"datum.value % 10 === 0 ? datum.label : ''","tickSize":{"condition":{"test":"datum.value % 10 === 0","value":10},"value":5},"labelPadding":7,"title":null}}
}},
{"data":{"name":"sticksBot"},
"encoding":{
"x":{"field":"w","type":"quantitative"},
"y":{"field":"fc","type":"quantitative","scale":{"type":"log","domain":[0.00000928,0.149],"nice":false},
"axis":{"orient":"right","values":[0.00001,0.00002,0.00003,0.00004,0.00005,0.00006,0.00007,0.00008,0.00009,0.0001,0.0002,0.0003,0.0004,0.0005,0.0006,0.0007,0.0008,0.0009,0.001,0.002,0.003,0.004,0.005,0.006,0.007,0.008,0.009,0.01,0.02,0.03,0.04,0.05,0.06,0.07,0.08,0.09,0.1],
"labelExpr":"datum.value === 0.1 ? '0.1' : datum.value === 0.01 ? '0.01' : datum.value === 0.001 ? '1E-3' : datum.value === 0.0001 ? '1E-4' : datum.value === 0.00001 ? '1E-5' : ''",
"tickSize":{"condition":{"test":"indexof([1,0.1,0.01,0.001,0.0001,0.00001], datum.value) >= 0","value":-10},"value":-5},
"labelPadding":22,"labelFontSize":30,"title":null}},
"color":{"field":"v","type":"nominal","scale":{"domain":[0,1,2,3,4,5,6,7,8,9,10],"range":["#000000","#ff0000","#00ff00","#0000ff","#00ffff","#ff00ff","#008000","#808000","#000080","#000080","#800080"]},"legend":null}
},
"layer":[
{"mark":{"type":"rule","strokeDash":[1.5,1.5],"strokeWidth":1.2},"encoding":{"y2":{"datum":0.00000928}}},
{"mark":{"type":"square","size":14,"opacity":1,"filled":true},"encoding":{}},
{"mark":{"type":"text","angle":270,"align":"left","baseline":"middle","dx":7,"fontSize":26,"font":"Liberation Sans"},"encoding":{"text":{"field":"lab"}}}
]}
],
"resolve":{"scale":{"y":"independent"},"axis":{"y":"independent"}}
}
]
}
